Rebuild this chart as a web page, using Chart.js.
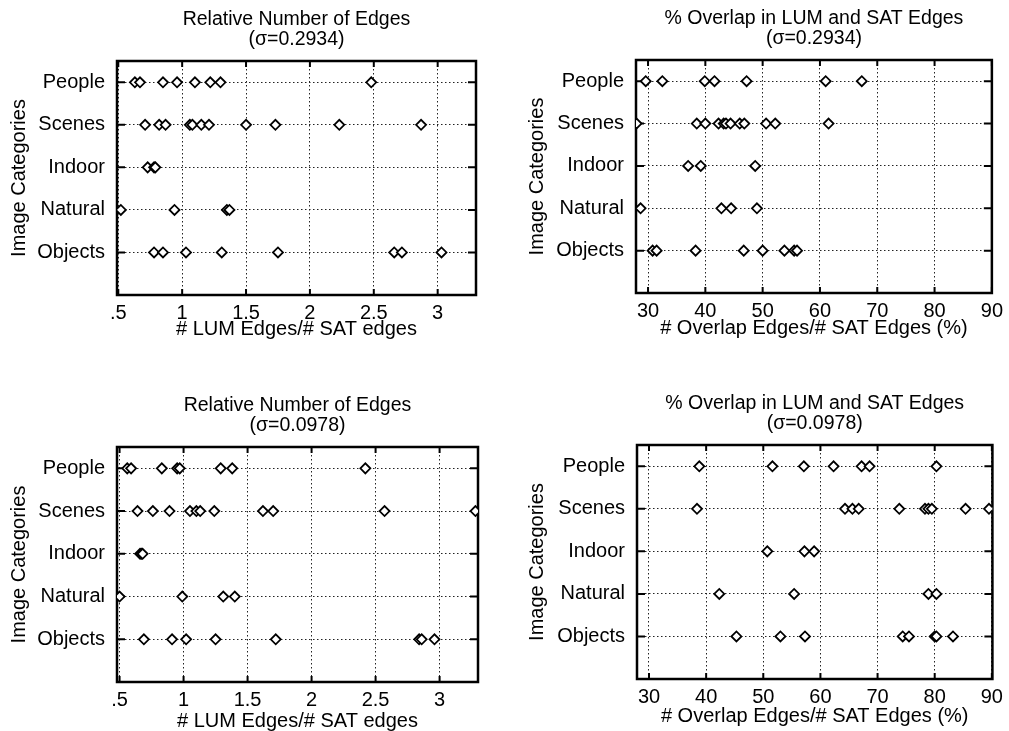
<!DOCTYPE html>
<html>
<head>
<meta charset="utf-8">
<script src="https://cdn.jsdelivr.net/npm/chart.js@4.4.1/dist/chart.umd.min.js"></script>
<style>
  body { margin: 0; background: #fff; width: 1009px; height: 731px; position: relative; overflow: hidden; }
  canvas { position: absolute; }
</style>
</head>
<body>
<canvas id="c1" width="504" height="350" style="left:0;top:0"></canvas>
<canvas id="c2" width="505" height="350" style="left:504px;top:0"></canvas>
<canvas id="c3" width="504" height="346" style="left:0;top:385px"></canvas>
<canvas id="c4" width="505" height="346" style="left:504px;top:385px"></canvas>
<script>
// categories top to bottom, and the row value each one sits on
const categories = ['People', 'Scenes', 'Indoor', 'Natural', 'Objects'];
const catRows = [5, 4, 3, 2, 1];
const lumTicks = [0.5, 1, 1.5, 2, 2.5, 3];
const overlapTicks = [30, 40, 50, 60, 70, 80, 90];

// sigma = 0.2934, # LUM edges / # SAT edges (one array per category)
const relEdgesHi = [
  [0.63, 0.67, 0.85, 0.96, 1.10, 1.22, 1.30, 2.48],
  [0.71, 0.82, 0.87, 1.06, 1.08, 1.15, 1.21, 1.50, 1.73, 2.23, 2.87],
  [0.73, 0.78, 0.79],
  [0.52, 0.94, 1.35, 1.37],
  [0.78, 0.85, 1.03, 1.31, 1.75, 2.66, 2.72, 3.03]
];
// sigma = 0.2934, overlap edges / SAT edges (%)
const overlapHi = [
  [29.6, 32.5, 39.9, 41.6, 47.2, 61.0, 67.3],
  [28.0, 38.5, 40.0, 42.3, 43.2, 43.6, 44.4, 46.0, 46.8, 50.6, 52.2, 61.5],
  [37.0, 39.2, 48.7],
  [28.7, 42.8, 44.5, 49.0],
  [30.8, 31.5, 38.3, 46.7, 50.0, 53.8, 55.5, 56.0]
];
// sigma = 0.0978, # LUM edges / # SAT edges
const relEdgesLo = [
  [0.56, 0.59, 0.83, 0.95, 0.97, 1.29, 1.38, 2.42],
  [0.64, 0.76, 0.89, 1.05, 1.10, 1.13, 1.24, 1.62, 1.70, 2.57, 3.28],
  [0.66, 0.67, 0.68],
  [0.50, 0.99, 1.31, 1.40],
  [0.69, 0.91, 1.02, 1.25, 1.72, 2.84, 2.86, 2.96]
];
// sigma = 0.0978, overlap edges / SAT edges (%)
const overlapLo = [
  [38.8, 51.6, 57.1, 62.3, 67.2, 68.6, 80.3],
  [38.4, 64.3, 65.6, 66.7, 73.8, 78.3, 78.9, 79.5, 85.4, 89.5],
  [50.7, 57.2, 58.9],
  [42.3, 55.4, 78.9, 80.3],
  [45.3, 53.0, 57.3, 74.4, 75.5, 80.0, 80.3, 83.2]
];

const fontFam = "'Liberation Sans', Arial, Helvetica, sans-serif";
const tickFont = { family: fontFam, size: 20 };

function toPoints(rows) {
  let pts = [];
  rows.forEach((vals, i) => vals.forEach(v => pts.push({ x: v, y: catRows[i] })));
  return pts;
}

// matlab style frame with inward ticks on all four sides
const boxPlugin = {
  id: 'box',
  beforeDatasetsDraw(chart) {
    const { ctx, chartArea: a, scales } = chart;
    ctx.save();
    ctx.strokeStyle = '#000';
    ctx.lineWidth = 2.5;
    ctx.strokeRect(a.left, a.top, a.right - a.left, a.bottom - a.top);
    ctx.lineWidth = 2;
    ctx.beginPath();
    scales.x.ticks.forEach(t => {
      const px = scales.x.getPixelForValue(t.value);
      ctx.moveTo(px, a.bottom); ctx.lineTo(px, a.bottom - 6);
      ctx.moveTo(px, a.top); ctx.lineTo(px, a.top + 6);
    });
    scales.y.ticks.forEach(t => {
      const py = scales.y.getPixelForValue(t.value);
      ctx.moveTo(a.left, py); ctx.lineTo(a.left + 8, py);
      ctx.moveTo(a.right, py); ctx.lineTo(a.right - 8, py);
    });
    ctx.stroke();
    ctx.restore();
  }
};

function panel(id, p) {
  const cv = document.getElementById(id);
  const pts = toPoints(p.rows);
  const xH = cv.height - p.area.bottom;
  new Chart(cv, {
    type: 'scatter',
    data: {
      datasets: [{
        data: pts,
        pointStyle: 'rectRot',
        pointRadius: 5,
        borderColor: '#000',
        borderWidth: 1.8,
        backgroundColor: '#fff'
      }, {
        data: pts,
        pointStyle: 'circle',
        pointRadius: 0.9,
        borderWidth: 0,
        backgroundColor: '#333'
      }]
    },
    options: {
      responsive: false,
      animation: false,
      layout: { padding: { left: p.padL, right: cv.width - p.area.right, top: 0, bottom: 0 } },
      plugins: {
        legend: { display: false },
        tooltip: { enabled: false },
        title: {
          display: true,
          fullSize: false,
          text: p.title,
          color: '#000',
          font: { family: fontFam, size: 19.5, weight: 'normal', lineHeight: 1.0 },
          padding: { top: p.area.top - 51, bottom: 12 }
        }
      },
      scales: {
        x: {
          type: 'linear',
          min: p.xMin, max: p.xMax,
          afterBuildTicks: s => { s.ticks = p.xTicks.map(v => ({ value: v })); },
          afterFit: s => { s.height = xH; },
          ticks: {
            font: tickFont, color: '#000', padding: 6, autoSkip: false, maxRotation: 0,
            callback: v => (v === 0.5 ? '.5' : String(v))
          },
          grid: { drawTicks: false, color: '#222', lineWidth: 1 },
          border: { display: false, dash: [1.5, 2.5] },
          title: { display: true, text: p.xTitle, font: tickFont, color: '#000', padding: { top: 0, bottom: xH - 12 - p.titleOff } }
        },
        y: {
          type: 'linear',
          min: 0, max: 5.5,
          afterBuildTicks: s => { s.ticks = catRows.map(v => ({ value: v })); },
          afterFit: s => { s.width = p.area.left - p.padL; },
          ticks: {
            font: tickFont, color: '#000', padding: 12, autoSkip: false,
            callback: v => categories[catRows.indexOf(v)]
          },
          grid: { drawTicks: false, color: '#222', lineWidth: 1 },
          border: { display: false, dash: [1.5, 2.5] },
          title: { display: true, text: 'Image Categories', font: tickFont, color: '#000', padding: 0 }
        }
      }
    },
    plugins: [boxPlugin]
  });
}

panel('c1', {
  rows: relEdgesHi, title: ['Relative Number of Edges', '(\u03c3=0.2934)'],
  xTitle: '# LUM Edges/# SAT edges', xTicks: lumTicks, xMin: 0.49, xMax: 3.3,
  padL: 7, titleOff: 34, area: { left: 117, right: 476, top: 61, bottom: 295 }
});
panel('c2', {
  rows: overlapHi, title: ['% Overlap in LUM and SAT Edges', '(\u03c3=0.2934)'],
  xTitle: '# Overlap Edges/# SAT Edges (%)', xTicks: overlapTicks, xMin: 27.9, xMax: 90,
  padL: 21, titleOff: 35, area: { left: 132, right: 491, top: 60, bottom: 293 }
});
panel('c3', {
  rows: relEdgesLo, title: ['Relative Number of Edges', '(\u03c3=0.0978)'],
  xTitle: '# LUM Edges/# SAT edges', xTicks: lumTicks, xMin: 0.48, xMax: 3.3,
  padL: 7, titleOff: 39, area: { left: 117, right: 478, top: 62, bottom: 297 }
});
panel('c4', {
  rows: overlapLo, title: ['% Overlap in LUM and SAT Edges', '(\u03c3=0.0978)'],
  xTitle: '# Overlap Edges/# SAT Edges (%)', xTicks: overlapTicks, xMin: 27.9, xMax: 90.1,
  padL: 21, titleOff: 37, area: { left: 133, right: 493, top: 60, bottom: 294 }
});
</script>
</body>
</html>
